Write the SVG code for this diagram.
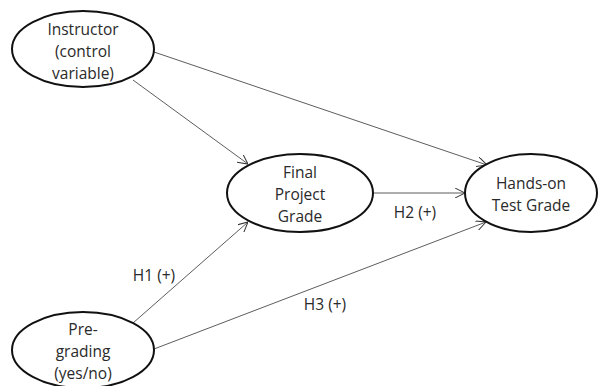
<svg xmlns="http://www.w3.org/2000/svg" width="602" height="386" viewBox="0 0 602 386">
<defs>
<marker id="arr" viewBox="0 0 10 10" refX="10" refY="5" markerWidth="10" markerHeight="10" markerUnits="userSpaceOnUse" orient="auto">
<path d="M0,0 L10,5 L0,10" fill="none" stroke="#333" stroke-width="1"/>
</marker>
</defs>
<style>
.n{fill:#fff;stroke:#111;stroke-width:2}
.t{font-family:"Open Sans","Liberation Sans",sans-serif;font-size:15.5px;fill:#2a2a2a;text-anchor:middle}
.c{stroke:#333;stroke-width:0.8;fill:none;marker-end:url(#arr)}
</style>
<rect width="602" height="386" fill="#fff"/>
<g id="connectors">
<line class="c" x1="154" y1="52" x2="487" y2="165"/>
<line class="c" x1="133" y1="80" x2="248" y2="164"/>
<line class="c" x1="373" y1="193" x2="465" y2="193"/>
<line class="c" x1="133" y1="323" x2="248" y2="222"/>
<line class="c" x1="154" y1="349" x2="486" y2="222"/>
</g>
<g id="instructor">
<ellipse class="n" cx="83" cy="49" rx="71" ry="38"/>
<text class="t" x="83" y="35">Instructor</text>
<text class="t" x="83" y="57">(control</text>
<text class="t" x="83" y="79">variable)</text>
</g>
<g id="final">
<ellipse class="n" cx="300" cy="193" rx="73" ry="39"/>
<text class="t" x="300" y="178">Final</text>
<text class="t" x="300" y="200">Project</text>
<text class="t" x="300" y="222">Grade</text>
</g>
<g id="handson">
<ellipse class="n" cx="531" cy="193" rx="66" ry="39"/>
<text class="t" x="531" y="189">Hands-on</text>
<text class="t" x="531" y="211">Test Grade</text>
</g>
<g id="pregrading">
<ellipse class="n" cx="83" cy="350" rx="71" ry="38"/>
<text class="t" x="83" y="335">Pre-</text>
<text class="t" x="83" y="357">grading</text>
<text class="t" x="83" y="379">(yes/no)</text>
</g>
<g id="labels">
<text class="t" x="154" y="281">H1 (+)</text>
<text class="t" x="415" y="218">H2 (+)</text>
<text class="t" x="325" y="310">H3 (+)</text>
</g>
</svg>
